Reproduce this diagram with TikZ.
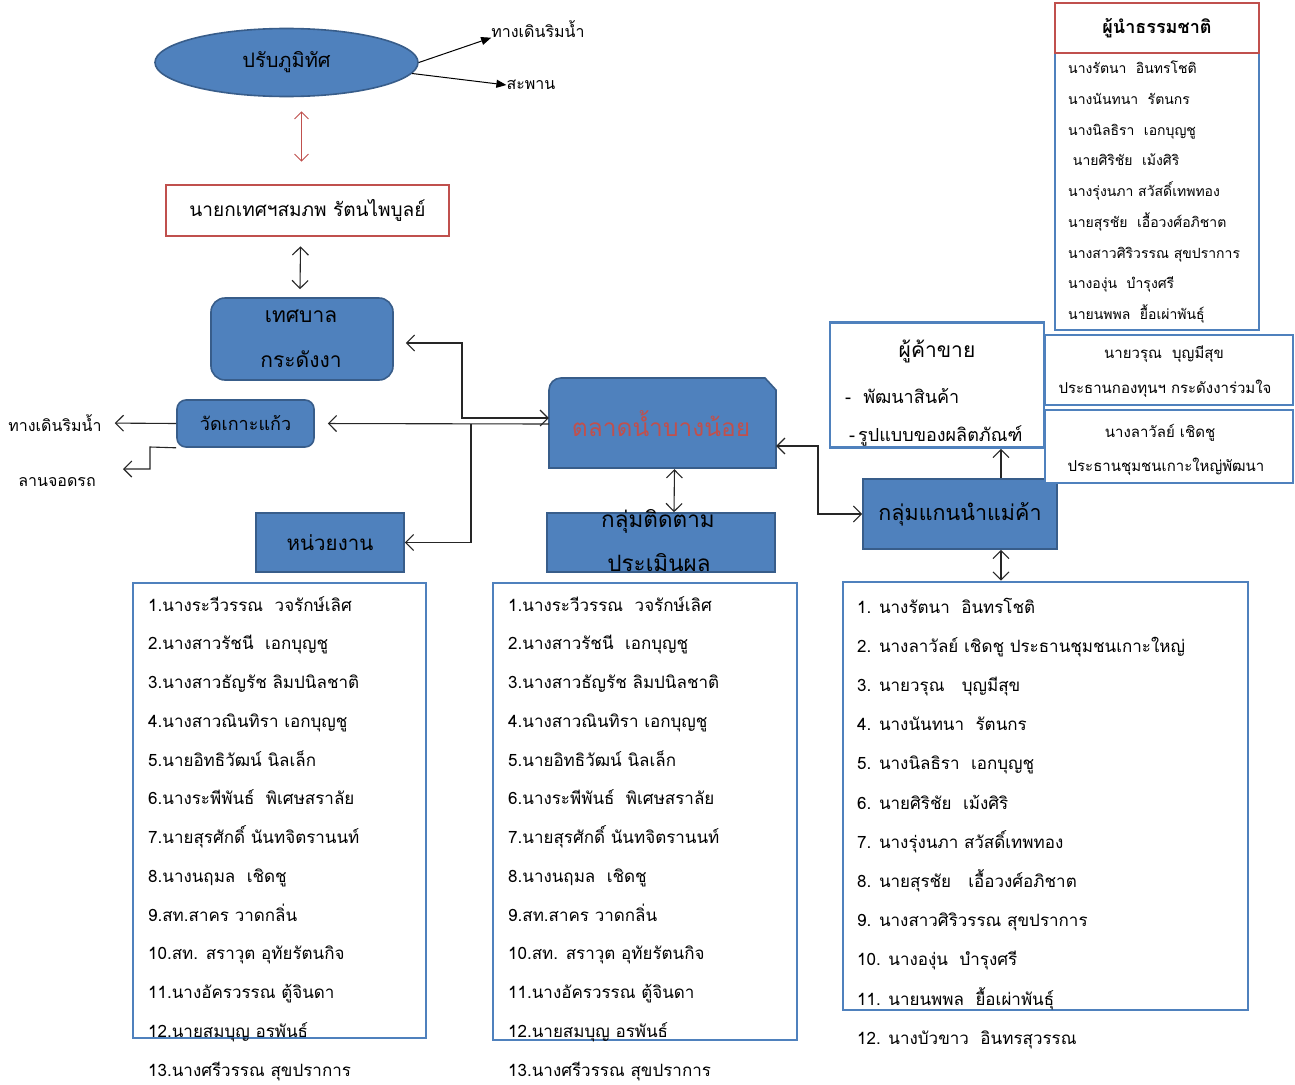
\documentclass[tikz,border=0pt]{standalone}
\usepackage{fontspec}
\setmainfont{Loma}[Script=Thai]
\usetikzlibrary{arrows.meta,shapes.geometric,calc}
\definecolor{oblue}{HTML}{4F81BD}
\definecolor{bdark}{HTML}{385D8A}
\definecolor{ored}{HTML}{C0504D}
\newcommand{\fs}[1]{\fontsize{#1}{#1}\selectfont}
\tikzset{
  fbox/.style={draw=bdark, line width=1.6pt, fill=oblue, inner sep=0pt},
  wbox/.style={draw=oblue, line width=2.6pt, fill=white, inner sep=0pt},
  rbox/.style={draw=ored, line width=2.6pt, fill=white, inner sep=0pt},
  lbl/.style={inner sep=0pt, text=black},
  conn/.style={draw=black!85, line width=1.1pt},
  barbs/.style={conn, {Straight Barb[length=8pt,width=16pt]}-{Straight Barb[length=8pt,width=16pt]}},
  barbe/.style={conn, -{Straight Barb[length=8pt,width=16pt]}},
  tri/.style={draw=black, line width=1pt, -{Triangle[length=10pt,width=8pt]}},
  listtxt/.style={anchor=west, inner sep=0pt, font=\fs{17}, text height=13pt, text depth=5pt},
  nattxt/.style={anchor=west, inner sep=0pt, font=\fs{14}, text height=11pt, text depth=4pt},
}
\begin{document}
\begin{tikzpicture}[x=1pt,y=-1pt]
\path[use as bounding box, fill=white] (0,0) rectangle (1295,1084);

% ---- top: landscape ellipse
\node[ellipse, fbox, minimum width=263pt, minimum height=68pt, font=\fs{20}] (land) at (286.5,62.5) {ปรับภูมิทัศ};
\node[lbl, font=\fs{16}] (walk1) at (538,29) {ทางเดินริมน้ำ};
\node[lbl, font=\fs{16}] (bridge) at (531,85) {สะพาน};
\draw[tri] (land.east) -- (walk1.south west);
\draw[tri] (land.-5) -- (bridge.west);

% ---- mayor
\node[rbox, minimum width=283pt, minimum height=51pt, font=\fs{19}] (mayor) at (307.5,210.5) {นายกเทศฯสมภพ\ รัตนไพบูลย์};
\draw[draw=ored, line width=0.9pt, {Straight Barb[length=7pt,width=14pt]}-{Straight Barb[length=7pt,width=14pt]}]
  ($(land.south)+(15,14)$) -- ($(mayor.north)+(-6,-22)$);

% ---- council
\node[fbox, rounded corners=14pt, minimum width=182pt, minimum height=82pt] (council) at (302,339) {};
\node[lbl, font=\fs{21}] (council1) at (301,316) {เทศบาล};
\node[lbl, font=\fs{21}] (council2) at (301,359) {กระดังงา};
\draw[barbs] ($(mayor.south)+(-7,9)$) -- ($(council.north)+(-2,-8)$);

% ---- wat
\node[fbox, rounded corners=9pt, minimum width=137pt, minimum height=47pt, font=\fs{18}] (wat) at (245.5,423.5) {วัดเกาะแก้ว};
\node[lbl, font=\fs{16}] (walk2) at (55,423) {ทางเดินริมน้ำ};
\node[lbl, font=\fs{16}] (park) at (57,482) {ลานจอดรถ};
\coordinate (pk1) at (150,447);
\coordinate (parktip) at (123,469);
\draw[barbe] (wat.west) -- (walk2.east) [shorten >=13pt];
\draw[barbe] (wat.south west) -- (pk1) |- (parktip);

% ---- unit
\node[fbox, minimum width=148pt, minimum height=59pt, font=\fs{20.5}] (unit) at (330,542.5) {หน่วยงาน};

% ---- market
\node[inner sep=0pt, minimum width=227pt, minimum height=90pt] (market) at (662.5,423) {};
\draw[draw=bdark, line width=1.6pt, fill=oblue]
  (549,468) -- (549,390) arc[start angle=180, end angle=270, radius=12] -- (765,378) -- (776,390) -- (776,468) -- cycle;
\node[lbl, text=ored, font=\fs{24.5}] (markettxt) at (661,424) {ตลาดน้ำบางน้อย};

\coordinate (j1) at (462,418);
\coordinate (j2) at (471,424);
\draw[barbs] ($(council.east)+(12,4)$) -| (j1) -- (j1 -| market.west);
\draw[barbe] (j2 -| market.west) -- (wat.east) [shorten >=13pt];
\draw[barbe] (j2) |- (unit.east);

% ---- follow-up group
\node[fbox, minimum width=228pt, minimum height=59pt] (follow) at (661,542.5) {};
\node[lbl, font=\fs{22.5}] (follow1) at (658,521) {กลุ่มติดตาม};
\node[lbl, font=\fs{22.5}] (follow2) at (659,563) {ประเมินผล};
\draw[barbs] ($(market.south)+(12,1)$) -- ($(follow.north)+(13,0)$);

% ---- vendor leader group
\node[fbox, minimum width=194pt, minimum height=70pt, font=\fs{21.5}] (leader) at (960,514) {กลุ่มแกนนำแม่ค้า};
\coordinate (j3) at (818,446);
\draw[barbs] ($(market.east)+(0,23)$) -- (j3) |- (leader.west);

% ---- vendor box
\node[wbox, minimum width=214pt, minimum height=125pt] (vendor) at (937,385) {};
\node[lbl, font=\fs{21}] (vendor1) at (937,351) {ผู้ค้าขาย};
\node[lbl, anchor=west, font=\fs{18}] (vendor2) at (845,396) {-\ \ พัฒนาสินค้า};
\node[lbl, anchor=west, font=\fs{18}] (vendor3) at (849,436) {-\,รูปแบบของผลิตภัณฑ์};
\draw[barbe] ($(leader.north)+(41,0)$) -- ($(vendor.south)+(64,0)$);

% ---- side boxes
\node[wbox, minimum width=248pt, minimum height=70pt] (waroon) at (1169,370) {};
\node[lbl, font=\fs{15}] (waroon1) at (1164,354) {นายวรุณ\ \ บุญมีสุข};
\node[lbl, font=\fs{15}] (waroon2) at (1165,389) {ประธานกองทุนฯ กระดังงาร่วมใจ};
\node[wbox, minimum width=248pt, minimum height=73pt] (lawan) at (1169,446.5) {};
\node[lbl, font=\fs{15}] (lawan1) at (1160,433) {นางลาวัลย์ เชิดชู};
\node[lbl, font=\fs{15}] (lawan2) at (1166,467) {ประธานชุมชนเกาะใหญ่พัฒนา};

% ---- natural leaders
\node[wbox, minimum width=204pt, minimum height=277pt] (natlist) at (1157,191.5) {};
\node[rbox, minimum width=204pt, minimum height=50pt, font=\fs{18}\bfseries] (nathead) at (1157,28) {ผู้นำธรรมชาติ};
\foreach \t [count=\i] in {นางรัตนา\ \ อินทรโชติ, นางนันทนา\ \ รัตนกร, นางนิลธิรา\ \ เอกบุญชู, \ นายศิริชัย\ \ เม้งศิริ, นางรุ่งนภา สวัสดิ์เทพทอง, นายสุรชัย\ \ เอื้อวงศ์อภิชาต, นางสาวศิริวรรณ สุขปราการ, นางองุ่น\ \ บำรุงศรี, นายนพพล\ \ ยื้อเผ่าพันธุ์}
  \node[nattxt] (nat\i) at (1068,{70+(\i-1)*30.75}) {\t};

% ---- bottom lists
\node[wbox, minimum width=293pt, minimum height=455pt] (box1) at (279.5,810.5) {};
\node[wbox, minimum width=304pt, minimum height=457pt] (box2) at (645,811.5) {};
\node[wbox, minimum width=405pt, minimum height=428pt] (box3) at (1045.5,796) {};
\draw[barbs] ($(leader.south)+(41,0)$) -- ($(box3.north)+(-44.5,0)$);

\foreach \t [count=\i] in {1.นางระวีวรรณ\ \ วจรักษ์เลิศ, 2.นางสาวรัชนี\ \ เอกบุญชู, 3.นางสาวธัญรัช ลิมปนิลชาติ, 4.นางสาวณินทิรา เอกบุญชู, 5.นายอิทธิวัฒน์ นิลเล็ก, 6.นางระพีพันธ์\ \ พิเศษสราลัย, 7.นายสุรศักดิ์ นันทจิตรานนท์, 8.นางนฤมล\ \ เชิดชู, 9.สท.สาคร วาดกลิ่น, 10.สท. สราวุต อุทัยรัตนกิจ, 11.นางอัครวรรณ ตู้จินดา, 12.นายสมบุญ อรพันธ์, 13.นางศรีวรรณ สุขปราการ}
  {\node[listtxt] (la\i) at (148,{607+(\i-1)*38.75}) {\t};
   \node[listtxt] (lb\i) at (508,{607+(\i-1)*38.75}) {\t};}

\foreach \t [count=\i] in {1. นางรัตนา\ \ อินทรโชติ, 2. นางลาวัลย์ เชิดชู ประธานชุมชนเกาะใหญ่, 3. นายวรุณ\ \ \ บุญมีสุข, 4. นางนันทนา\ \ รัตนกร, 5. นางนิลธิรา\ \ เอกบุญชู, 6. นายศิริชัย\ \ เม้งศิริ, 7. นางรุ่งนภา สวัสดิ์เทพทอง, 8. นายสุรชัย\ \ \ เอื้อวงศ์อภิชาต, 9. นางสาวศิริวรรณ สุขปราการ, 10. นางองุ่น\ \ บำรุงศรี, 11. นายนพพล\ \ ยื้อเผ่าพันธุ์, 12. นางบัวขาว\ \ อินทรสุวรรณ}
  \node[listtxt] (lc\i) at (857,{609+(\i-1)*39.2}) {\t};
\end{tikzpicture}
\end{document}
